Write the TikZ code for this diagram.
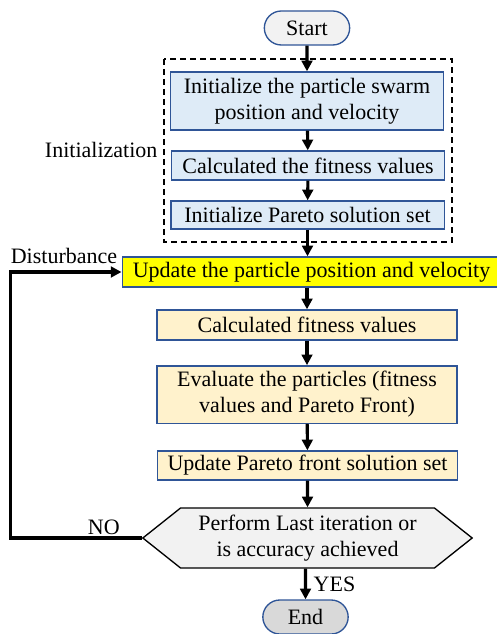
\documentclass[tikz,border=0pt]{standalone}
\usepackage{fontspec}
\setmainfont{Liberation Serif}
\usetikzlibrary{shapes.geometric,shapes.misc,shapes.symbols,arrows.meta,positioning}
\definecolor{boxblue}{HTML}{DEEBF7}
\definecolor{edgeblue}{HTML}{2F5597}
\definecolor{cream}{HTML}{FFF2CC}
\definecolor{hiyellow}{HTML}{FFFF00}
\definecolor{termgray}{HTML}{F2F2F2}
\definecolor{endgray}{HTML}{D9D9D9}
\tikzset{
  txt/.style={font=\fontsize{16.5}{19.5}\selectfont},
  term/.style={rounded rectangle,draw=edgeblue,line width=1pt,fill=#1,
               minimum width=66pt,minimum height=25.5pt,txt,inner sep=1pt},
  initbox/.style={rectangle,draw=edgeblue,line width=1pt,fill=boxblue,
                  minimum width=205pt,txt,align=center,inner sep=2pt},
  loopbox/.style={rectangle,draw=edgeblue,line width=1pt,fill=cream,
                  minimum width=225pt,txt,align=center,inner sep=2pt},
  hlbox/.style={rectangle,draw=edgeblue,line width=1pt,fill=hiyellow,
                minimum width=284pt,minimum height=22.5pt,txt,inner sep=2pt},
  decide/.style={signal,signal to=west and east,signal pointer angle=77,
                 draw=black,line width=1pt,fill=termgray,
                 minimum width=247pt,minimum height=45pt,txt,align=center,
                 inner sep=1pt},
  grp/.style={rectangle,draw=black,line width=1pt,dash pattern=on 4.5pt off 3pt},
  arr/.style={-{Triangle[length=8pt,width=8pt]},line width=2.3pt,color=black},
  lbl/.style={txt,inner sep=1pt},
}
\begin{document}
\begin{tikzpicture}[x=0.75pt,y=-0.75pt]
  \useasboundingbox (0,0) rectangle (496,634);

  \node[term=termgray] (start) at (307,28) {Start};
  \node[initbox,minimum height=43.5pt] (ini1) at (307,101)
       {Initialize the particle swarm\\position and velocity};
  \node[initbox,minimum height=21.75pt] (ini2) at (308,165.5) {Calculated the fitness values};
  \node[initbox,minimum height=21pt] (ini3) at (307.5,215) {Initialize Pareto solution set};
  \draw[grp] (164,59) rectangle (452,242);
  \node[lbl,anchor=east] (inilbl) at (159,150) {Initialization};

  \node[hlbox] (upd) at (311.5,272) {Update the particle position and velocity};
  \node[lbl] (dist) at (64,256) {Disturbance};
  \node[loopbox,minimum height=22.5pt] (fit) at (307,325) {Calculated fitness values};
  \node[loopbox,minimum height=43pt] (eval) at (307,394.5)
       {Evaluate the particles (fitness\\values and Pareto Front)};
  \node[loopbox,minimum height=21.75pt] (par) at (307.5,465.5) {Update Pareto front solution set};
  \node[decide] (dec) at (307.5,538)
       {Perform Last iteration or\\is accuracy achieved};
  \node[term=endgray] (end) at (305.5,617) {End};

  \foreach \i/\j in {start/ini1,ini1/ini2,ini2/ini3,fit/eval,eval/par,par/dec}
    \draw[arr] (\i) -- (\j);
  \draw[arr] (ini3) -- (ini3 |- upd.north);
  \draw[arr] (upd.south -| fit) -- (fit);
  \draw[arr] (dec.south -| end) -- node[lbl,right=4pt]{YES} (end);
  \draw[arr] (dec.west) -- node[lbl,above,pos=0.29]{NO} ++(-131,0) |- (upd.west);
\end{tikzpicture}
\end{document}
